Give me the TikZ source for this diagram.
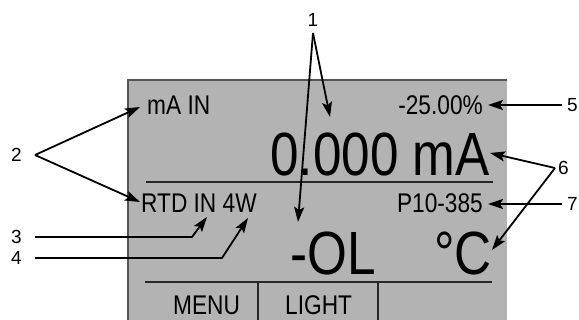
\documentclass[tikz,border=0pt]{standalone}
\usepackage{fontspec}
\setmainfont{Liberation Sans}
\newfontfamily\lcdfont[FakeStretch=0.84]{Liberation Sans}
\usetikzlibrary{arrows.meta}
\definecolor{lcdgray}{HTML}{B3B3B3}
\definecolor{lcdedge}{HTML}{555555}

\begin{document}
\begin{tikzpicture}[x=1pt,y=-1pt,
  num/.style={font=\fontsize{19}{19}\selectfont,inner sep=0pt},
  small/.style={font=\lcdfont\fontsize{27}{27}\selectfont,inner sep=0pt,text=black},
  big/.style={font=\lcdfont\fontsize{61}{61}\selectfont,inner sep=0pt,text=black},
  lcdline/.style={line width=1.6pt,black!85},
  arr/.style={-{Stealth[length=15pt,width=10pt,inset=3pt]},line width=1.8pt}]
  \useasboundingbox (0,0) rectangle (579,320);
  % display panel
  \fill[lcdgray] (128,80) rectangle (507,320);
  \draw[lcdedge,line width=2pt] (128,320) -- (128,80) -- (507,80);
  \draw[lcdline] (146,182) -- (493,182);
  \draw[lcdline] (145,282) -- (492,282);
  \draw[lcdline] (258,282) -- (258,320);
  \draw[lcdline] (378,282) -- (378,320);
  % display texts
  \node[small,anchor=base west] (mAin) at (147,115) {mA IN};
  \node[small,anchor=base east] (pct) at (483,115) {-25.00\%};
  \node[big,anchor=base east] (mA) at (490,176) {0.000 mA};
  \node[small,anchor=base west] (rtd) at (141,213) {RTD IN 4W};
  \node[small,anchor=base east] (ptype) at (483,213) {P10-385};
  \node[big,anchor=base west] (ol) at (290,275) {-OL};
  \node[big,anchor=base east] (degC) at (492,275) {°C};
  \node[small,anchor=base west] (menu) at (173,315) {MENU};
  \node[small,anchor=base west] (light) at (285,315) {LIGHT};
  % callout numbers
  \node[num,anchor=south,inner ysep=6pt] (n1) at (313,33) {1};
  \node[num,anchor=east,inner xsep=13pt] (n2) at (35,155) {2};
  \node[num,anchor=east,inner xsep=13pt] (n3) at (35,237) {3};
  \node[num,anchor=east,inner xsep=13pt] (n4) at (35,258) {4};
  \node[num,anchor=west,inner xsep=5pt] (n5) at (562,105) {5};
  \node[num,anchor=west,inner xsep=3pt] (n6) at (555,168) {6};
  \node[num,anchor=west,inner xsep=5pt] (n7) at (562,204) {7};
  % arrow tips and bends
  \coordinate (t1a) at (330,117);
  \coordinate (t1b) at (298,222);
  \coordinate (t2a) at (140,107);
  \coordinate (t2b) at (140,202);
  \coordinate (t3) at (207,217);
  \coordinate (t4) at (248,218);
  \coordinate (t5) at (488,105);
  \coordinate (t6a) at (490,153);
  \coordinate (t6b) at (492,250);
  \coordinate (t7) at (488,204);
  \coordinate (k3) at (192,237);
  \coordinate (k4) at (222,258);
  \foreach \a/\b in {n1.south/t1a,n1.south/t1b,n2.east/t2a,n2.east/t2b,
                     n5.west/t5,n6.west/t6a,n6.west/t6b,n7.west/t7}
     \draw[arr] (\a) -- (\b);
  \draw[arr] (n3.east) -- (k3) -- (t3);
  \draw[arr] (n4.east) -- (k4) -- (t4);
\end{tikzpicture}
\end{document}
